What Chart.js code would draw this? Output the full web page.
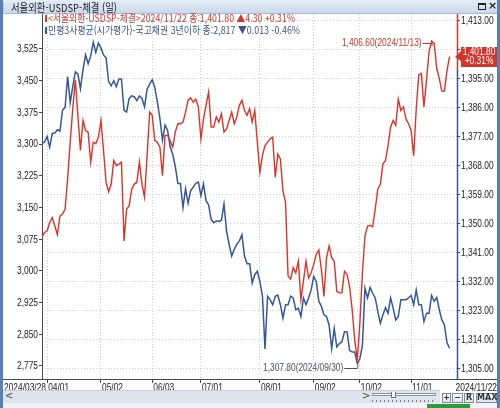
<!DOCTYPE html>
<html lang="ko"><head><meta charset="utf-8">
<script src="https://cdn.jsdelivr.net/npm/chart.js@4.4.1/dist/chart.umd.min.js"></script>
<style>
html,body{margin:0;padding:0;width:500px;height:408px;overflow:hidden;background:#fff}
#wrap{position:relative;width:500px;height:408px;overflow:hidden}
#c{position:absolute;left:0;top:0}
.abs{position:absolute;white-space:nowrap}
#titlebar{left:0;top:0;width:500px;height:14px;background:linear-gradient(#e4edf8,#cad9eb);border-bottom:1px solid #a7bbd3;box-sizing:border-box}
.fitL{transform-origin:0 50%}
.leg{font-family:'Noto Sans CJK KR',sans-serif;font-size:10px;line-height:12px}
.btn{top:393px;height:10px;border:1px solid #7f8ba0;background:linear-gradient(#fdfdfe,#dfe4eb);box-sizing:border-box;font:bold 8px 'DejaVu Sans',sans-serif;color:#333;text-align:center;line-height:8px}
</style></head>
<body><div id="wrap">
<canvas id="c" width="500" height="408"></canvas>
<div class="abs" id="titlebar"></div>
<div class="abs" style="left:3px;top:3px;width:1px;height:8px;border-left:1px dotted #8ea3bf"></div>
<div class="abs fitL" id="title" data-w="106" style="left:11px;top:0;font:11px 'Noto Sans CJK KR',sans-serif;line-height:14px;color:#1b1b1b">서울외환-USDSP-체결 (일)</div>
<div class="abs" style="left:478px;top:3px;width:8px;height:7px;border:1px solid #222;border-top-width:2px;box-sizing:border-box"></div>
<div class="abs" style="left:488px;top:-1px;font:bold 11px 'DejaVu Sans',sans-serif;line-height:14px;color:#222">×</div>
<div class="abs" style="left:45px;top:15px;width:2px;height:7px;background:#d9372c"></div>
<div class="abs leg fitL" id="leg1" data-w="247" style="left:48px;top:12px;color:#c8392e"></div>
<div class="abs" style="left:45px;top:27px;width:2px;height:7px;background:#3a5a96"></div>
<div class="abs leg fitL" id="leg2" data-w="252" style="left:48px;top:24px;color:#3d5686"></div>
<div class="abs" style="left:3px;top:390px;width:437px;height:13px;background:#dfe5ec;border-top:1px solid #c3ccd8;box-sizing:border-box"></div>
<div class="abs" style="left:5px;top:390px;font:10px 'DejaVu Sans',sans-serif;line-height:12px;color:#444">&lt;</div>
<div class="abs" style="left:362px;top:390px;font:10px 'DejaVu Sans',sans-serif;line-height:12px;color:#444">&gt;</div>
<div class="abs" style="left:372px;top:393px;width:64px;height:3px;border:1px solid #8592a6;background:#fff;box-sizing:border-box"></div>
<div class="abs" style="left:391px;top:392px;width:5px;height:6px;border:1px solid #66758c;border-top:none;background:#fff;box-sizing:border-box"></div>
<div class="abs" style="left:372px;top:400px;width:64px;height:2px;background:repeating-linear-gradient(90deg,#6f7c92 0 1px,transparent 1px 4px)"></div>
<div class="abs btn" style="left:442px;width:9px">+</div>
<div class="abs btn" style="left:452px;width:11px">−</div>
<div class="abs btn" style="left:464px;width:10px">R</div>
<div class="abs btn" style="left:476px;width:21px">MAX</div>
<div class="abs" style="left:3px;top:403px;width:494px;height:5px;background:#f1f3f6"></div>
<div class="abs" style="left:427px;top:404px;width:43px;height:4px;background:#2f9a3c"></div>
<div class="abs" style="left:0;top:0;width:3px;height:408px;background:#5a7fb5"></div>
<div class="abs" style="left:497px;top:0;width:3px;height:408px;background:#5a7fb5"></div>
</div>
<script>
// ---------------- data ----------------
const seriesNames = ['서울외환-USDSP-체결', '민평3사평균(시가평가)-국고채권 3년이하'];
const holidays = ['2024-04-10','2024-05-01','2024-05-06','2024-05-15','2024-06-06','2024-08-15',
  '2024-09-16','2024-09-17','2024-09-18','2024-10-01','2024-10-03','2024-10-09'];
const firstDate = '2024-03-28';
const lastDate = '2024-11-22';

// USD/KRW close (right axis)
const usdKrw = [
 1345.9,1347.3,1347.8,1350.4,1351.9,1349.3,1346.7,1352.4,1353.0,1354.5,
 1363.9,1375.3,1385.7,1394.5,1383.6,1372.7,1382.0,1378.9,1378.4,1369.1,
 1375.3,1374.8,1376.8,1382.0,1372.7,1362.8,1359.9,1362.3,1369.6,1368.0,
 1368.5,1369.1,1344.7,1354.5,1355.6,1360.7,1362.3,1362.8,1369.1,1362.3,
 1358.2,1371.1,1384.6,1383.6,1375.8,1375.3,1373.7,1364.9,1377.4,1377.4,
 1375.8,1373.7,1378.4,1381.0,1381.0,1381.5,1384.6,1388.3,1389.0,1387.7,
 1388.6,1386.2,1376.3,1382.5,1386.7,1390.9,1380.0,1380.0,1383.1,1381.5,
 1384.1,1378.4,1379.4,1382.0,1384.6,1381.0,1383.1,1386.7,1388.3,1385.1,
 1383.6,1385.7,1381.5,1385.1,1375.3,1365.9,1371.1,1374.2,1375.3,1376.3,
 1376.8,1364.4,1371.6,1370.1,1360.2,1356.6,1333.8,1332.9,1336.4,1334.8,
 1338.4,1326.5,1332.2,1338.4,1333.2,1334.8,1337.4,1340.5,1341.9,1335.8,
 1327.5,1339.5,1343.1,1339.5,1338.4,1329.1,1328.6,1328.6,1335.3,1334.3,
 1330.6,1323.4,1314.0,1307.8,1319.2,1334.8,1346.2,1349.3,1349.5,1349.1,
 1354.5,1360.7,1362.3,1368.5,1369.6,1374.2,1380.0,1382.0,1380.5,1388.6,
 1385.1,1386.2,1382.5,1381.0,1378.9,1371.1,1385.7,1396.2,1396.6,1386.2,
 1394.5,1403.3,1406.6,1405.9,1398.1,1395.0,1391.1,1391.1,1397.5,1401.8
];
// 3y KTB yield x1000 (left axis)
const ktb3y = [
 3301,3305,3318,3293,3325,3326,3334,3331,3380,3387,
 3460,3398,3436,3471,3466,3431,3476,3511,3490,3508,
 3541,3517,3539,3527,3511,3504,3448,3438,3450,3436,
 3454,3454,3380,3376,3408,3414,3412,3403,3414,3408,
 3388,3430,3442,3452,3434,3400,3361,3309,3345,3333,
 3293,3276,3247,3207,3207,3150,3194,3160,3190,3198,
 3207,3210,3178,3206,3166,3156,3122,3114,3118,3117,
 3120,3158,3094,3063,3035,3051,3063,3071,3085,3035,
 3017,3017,2971,2991,2999,2975,2940,2815,2940,2932,
 2920,2940,2943,2920,2888,2920,2920,2940,2936,2908,
 2912,2892,2936,2920,2936,2955,2987,2975,2928,2916,
 2896,2892,2872,2816,2864,2820,2828,2832,2856,2856,
 2812,2808,2808,2781,2792,2824,2959,2936,2961,2947,
 2936,2904,2876,2896,2913,2900,2936,2912,2884,2892,
 2932,2932,2932,2936,2942,2920,2955,2920,2920,2880,
 2900,2900,2942,2928,2937,2908,2884,2872,2830,2817
];
const xTickLabels = ['04/01','05/02','06/03','07/01','08/01','09/02','10/02','11/01'];
const yLeftTicks = [2775,2850,2925,3000,3075,3150,3225,3300,3375,3450,3525];
const yRightTicks = [1305,1314,1323,1332,1341,1350,1359,1368,1377,1386,1395,1404,1413];

// ---------------- helpers ----------------
function tradingDays(from, to, hol){
  const out = []; const hs = new Set(hol);
  let d = new Date(from + 'T00:00:00Z'); const end = new Date(to + 'T00:00:00Z');
  while (d <= end){
    const iso = d.toISOString().slice(0,10); const wd = d.getUTCDay();
    if (wd !== 0 && wd !== 6 && !hs.has(iso)) out.push(iso.replace(/-/g,'/'));
    d = new Date(d.getTime() + 86400000);
  }
  return out;
}
const dates = tradingDays(firstDate, lastDate, holidays);
const n = usdKrw.length;
const fmt = (v, d) => v.toLocaleString('en-US', {minimumFractionDigits:d, maximumFractionDigits:d});
const tickIdx = xTickLabels.map(l => dates.findIndex(d => d.slice(5) === l)).filter(i => i >= 0);

// legend text
const dU = usdKrw[n-1] - usdKrw[n-2], dK = ktb3y[n-1] - ktb3y[n-2];
document.getElementById('leg1').textContent =
  '<' + seriesNames[0] + '>' + dates[n-1] + ' 종:' + fmt(usdKrw[n-1],2) + '  ' + (dU>=0?'▲':'▼') + fmt(Math.abs(dU),2) +
  '  ' + (dU>=0?'+':'-') + fmt(Math.abs(dU)/usdKrw[n-2]*100,2) + '%';
document.getElementById('leg2').textContent =
  seriesNames[1] + ' 종:' + fmt(ktb3y[n-1],0) + ' ' + (dK>=0?'▲':'▼') + (Math.abs(dK)/1000).toFixed(3) +
  '  ' + (dK>=0?'+':'-') + fmt(Math.abs(dK)/ktb3y[n-2]*100,2) + '%';
document.querySelectorAll('.fitL').forEach(el => {
  const w = el.getBoundingClientRect().width; const t = +el.dataset.w;
  if (w > 0 && t) el.style.transform = 'scaleX(' + (t / w) + ')';
});

// ---------------- chart ----------------
const FONT = "10.5px 'Liberation Sans','Arial',sans-serif";
const SX = 0.8; // horizontal compression of the narrow terminal font
const RED = '#dc3328', BLUE = '#35579a';

function ctext(ctx, s, x, y, align){
  const w = ctx.measureText(s).width * SX;
  const x0 = align === 'right' ? x - w : align === 'center' ? x - w / 2 : x;
  ctx.save(); ctx.translate(x0, y); ctx.scale(SX, 1); ctx.textAlign = 'left'; ctx.fillText(s, 0, 0); ctx.restore();
}

const overlay = {
  id: 'overlay',
  afterDraw(chart){
    const {ctx, chartArea: a, scales: {x, yL, yR}} = chart;
    const ln = (x1,y1,x2,y2,c,w) => { ctx.beginPath(); ctx.strokeStyle=c; ctx.lineWidth=w||1; ctx.moveTo(x1,y1); ctx.lineTo(x2,y2); ctx.stroke(); };
    ctx.save();
    ctx.font = FONT; ctx.fillStyle = '#222';
    // full-width bottom axis line
    ln(3, Math.round(a.bottom)+0.5, 497, Math.round(a.bottom)+0.5, '#4a4a4a', 1);
    // last value box position
    const last = usdKrw[n-1];
    const vy = Math.round(yR.getPixelForValue(last));
    const bx = a.right + 1, bw = 39, bh = 20, by = vy - 10;
    // tick labels
    ctx.textBaseline = 'middle';
    yLeftTicks.forEach(v => ctext(ctx, fmt(v,0), a.left - 4, yL.getPixelForValue(v) + 0.5, 'right'));
    yRightTicks.forEach(v => { const p = yR.getPixelForValue(v); if (p < by - 4 || p > by + bh + 4) ctext(ctx, fmt(v,2), a.right + 4, p + 0.5, 'left'); });
    ctx.textBaseline = 'top';
    tickIdx.forEach(i => ctext(ctx, dates[i].slice(5), x.getPixelForValue(i) + 1, a.bottom + 4, 'left'));
    ctext(ctx, dates[0], 4, a.bottom + 4, 'left');
    ctext(ctx, dates[n-1], 497, a.bottom + 4, 'right');
    // right axis line, red above the value box and blue below
    const rx = Math.round(a.right) + 0.5;
    ln(rx, a.top, rx, by + bh + 3, RED, 1.5);
    ln(rx, by + bh + 3, rx, a.bottom, BLUE, 1.5);
    // value box
    ctx.fillStyle = '#d3352b';
    ctx.beginPath(); ctx.moveTo(a.right - 2, vy); ctx.lineTo(bx + 3, by + 4); ctx.lineTo(bx + 3, by); ctx.lineTo(bx + bw, by);
    ctx.lineTo(bx + bw, by + bh); ctx.lineTo(bx + 3, by + bh); ctx.lineTo(bx + 3, vy + 4); ctx.closePath(); ctx.fill();
    ctx.fillStyle = '#fff'; ctx.textBaseline = 'middle';
    ctext(ctx, fmt(last,2), bx + 3 + (bw-3)/2, by + 5.5, 'center');
    ctext(ctx, (dU>=0?'+':'-') + fmt(Math.abs(dU)/usdKrw[n-2]*100,2) + '%', bx + 3 + (bw-3)/2, by + 14.5, 'center');
    // max / min annotations
    let mi = 0, ni = 0;
    usdKrw.forEach((v,i) => { if (v > usdKrw[mi]) mi = i; if (v < usdKrw[ni]) ni = i; });
    let px = x.getPixelForValue(mi), py = yR.getPixelForValue(usdKrw[mi]);
    ctx.fillStyle = '#c8392e';
    ctext(ctx, fmt(usdKrw[mi],2) + '(' + dates[mi] + ')', px - 10, py + 2, 'right');
    ln(px - 9, Math.round(py + 2) + 0.5, px, Math.round(py + 2) + 0.5, '#c8392e', 1);
    ln(px + 0.5, py + 2, px + 0.5, py + 5, '#c8392e', 1);
    px = x.getPixelForValue(ni); py = yR.getPixelForValue(usdKrw[ni]);
    ctx.fillStyle = '#4b5364';
    ctext(ctx, fmt(usdKrw[ni],2) + '(' + dates[ni] + ')', px - 14, py + 8, 'right');
    ln(px - 13, Math.round(py + 8) + 0.5, px, Math.round(py + 8) + 0.5, '#4b5364', 1);
    ln(px + 0.5, py + 8.5, px + 0.5, py + 1, RED, 1);
    ctx.restore();
  }
};

const gridDash = [1, 2];
new Chart(document.getElementById('c'), {
  type: 'line',
  data: { datasets: [
    { label: seriesNames[0], data: usdKrw.map((v,i)=>({x:i,y:v})), yAxisID: 'yR', borderColor: RED, borderWidth: 1.4, pointRadius: 0, tension: 0, order: 0 },
    { label: seriesNames[1], data: ktb3y.map((v,i)=>({x:i,y:v})), yAxisID: 'yL', borderColor: BLUE, borderWidth: 1.5, pointRadius: 0, tension: 0, order: 1 }
  ]},
  options: {
    responsive: false, animation: false, events: [],
    layout: { padding: { top: 14, left: 0, right: 0, bottom: 0 } },
    plugins: { legend: { display: false }, tooltip: { enabled: false } },
    scales: {
      x: { type: 'linear', position: 'bottom', min: 0, max: n - 1 + 2.9,
        afterBuildTicks: s => { s.ticks = tickIdx.map(v => ({ value: v })); },
        afterFit: s => { s.height = 29; },
        ticks: { display: false },
        grid: { color: '#cfcfcf', tickLength: 4, tickColor: '#444', tickWidth: 1 },
        border: { display: false, dash: gridDash } },
      yL: { type: 'linear', position: 'left', min: 2744.2, max: 3607.8,
        afterBuildTicks: s => { s.ticks = yLeftTicks.map(v => ({ value: v })); },
        afterFit: s => { s.width = 42; },
        ticks: { display: false },
        grid: { drawOnChartArea: false, tickLength: 3, tickColor: '#444' },
        border: { display: true, color: '#4a4a4a', width: 1 } },
      yR: { type: 'linear', position: 'right', min: 1301.9, max: 1415.0,
        afterBuildTicks: s => { s.ticks = yRightTicks.map(v => ({ value: v })); },
        afterFit: s => { s.width = 43; },
        ticks: { display: false },
        grid: { color: '#cfcfcf', tickLength: 3, tickColor: '#444' },
        border: { display: false, dash: gridDash } }
    }
  },
  plugins: [overlay]
});
</script>
</body></html>
